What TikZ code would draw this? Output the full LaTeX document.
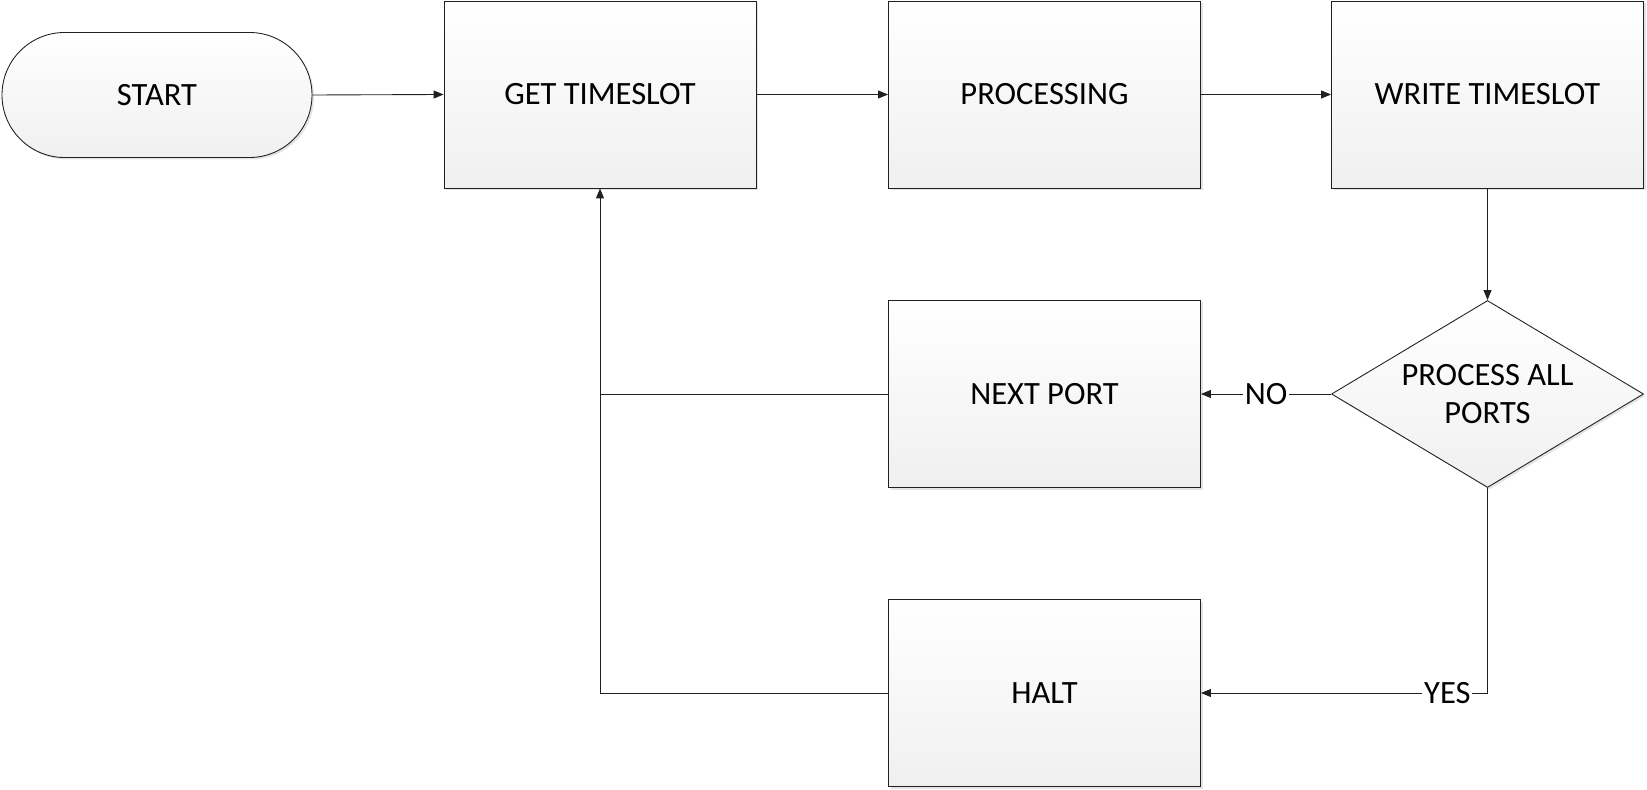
\documentclass[tikz,border=0pt]{standalone}
\usepackage{fontspec}
\setmainfont{Carlito}
\usetikzlibrary{arrows.meta,shapes.geometric,shadows}

\tikzset{
	box/.style={draw=gray!25!black,line width=0.5pt,top color=white,bottom color=gray!12,
		drop shadow={shadow xshift=0.04cm,shadow yshift=-0.04cm,fill=gray!35,opacity=0.6},
		minimum width=6.24cm,minimum height=3.74cm,inner sep=0pt,
		font=\fontsize{18.5}{22}\selectfont,align=center},
	link/.style={draw=gray!25!black,line width=0.5pt},
	arrow/.style={link,-{Triangle[length=0.2cm,width=0.16cm]}},
	answer/.style={fill=white,inner sep=1pt,font=\fontsize{18.5}{22}\selectfont}
}

\begin{document}
\begin{tikzpicture}
	\useasboundingbox (0,0) rectangle (32.94,-15.8);
% blocks
	\node[box,minimum width=6.2cm,minimum height=2.5cm,rounded corners=1.25cm] (start) at (3.14,-1.9) {START};
	\node[box] (get) at (12.0,-1.89) {GET TIMESLOT};
	\node[box] (proc) at (20.89,-1.89) {PROCESSING};
	\node[box] (write) at (29.75,-1.89) {WRITE TIMESLOT};
	\node[box,diamond,aspect=1.67] (check) at (29.75,-7.88) {PROCESS ALL\\PORTS};
	\node[box] (next) at (20.89,-7.88) {NEXT PORT};
	\node[box] (halt) at (20.89,-13.86) {HALT};

	%Links
	\draw[arrow] (start.east) -- (get.west);
	\draw[arrow] (get.east) -- (proc.west);
	\draw[arrow] (proc.east) -- (write.west);
	\draw[arrow] (write.south) -- (check.north);
	\draw[arrow] (check.west) -- node[answer] {NO} (next.east);
	\draw[arrow] (check.south) |- node[answer,pos=0.57] {YES} (halt.east);

	% back to the timeslot
	\draw[link] (next.west) -- (get.south |- next.west);
	\draw[arrow] (halt.west) -| (get.south);
\end{tikzpicture}
\end{document}
